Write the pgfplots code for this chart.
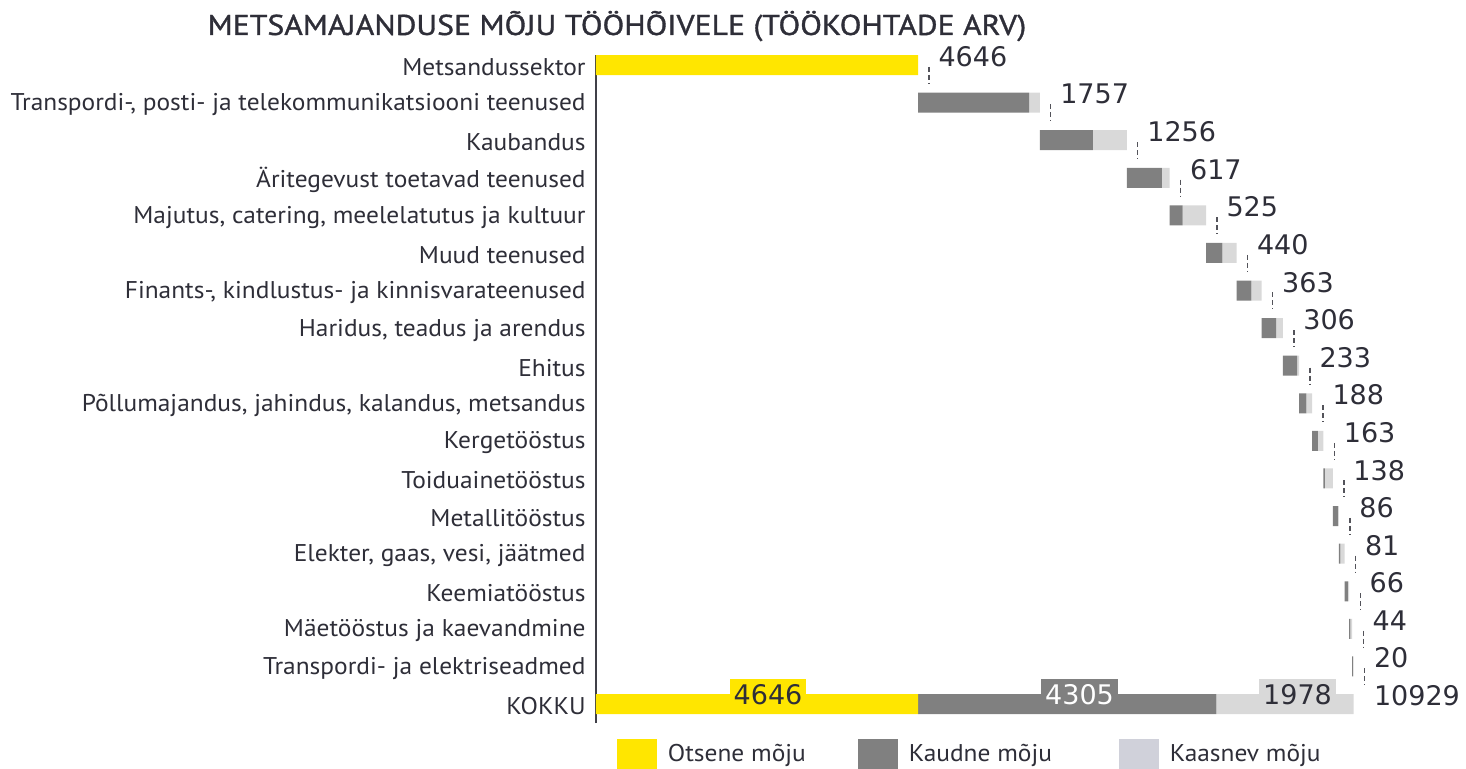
\documentclass[border=0pt]{standalone}
\usepackage{pgfplots}
\pgfplotsset{compat=1.18}
\usepackage{pgfplotstable}
\usepackage{fontspec}
\setmainfont{PT Sans}[FakeStretch=1.05]
\newfontfamily\numfont{DejaVu Sans}
\newfontfamily\titlefont[FakeBold=1.2,FakeStretch=1.11]{PT Sans}
\definecolor{ey}{HTML}{FFE600}
\definecolor{dk}{HTML}{808080}
\definecolor{lt}{HTML}{D9D9D9}
\definecolor{ltleg}{HTML}{D0D1DA}
\definecolor{textc}{HTML}{2E2E38}
\definecolor{axisc}{HTML}{404048}
\newcommand\catfont{\fontsize{12.1}{14}\selectfont}
\newcommand\numsize{\numfont\fontsize{13.5}{16}\selectfont}

\pgfplotstableread{
y off yel dk lt
17 0 4646 0 0
16 4646 0 1604 153
15 6403 0 765 491
14 7659 0 505 112
13 8276 0 188 337
12 8801 0 235 205
11 9241 0 216 147
10 9604 0 207 99
9 9910 0 207 26
8 10143 0 106 82
7 10331 0 82 81
6 10494 0 20 118
5 10632 0 70 16
4 10718 0 20 61
3 10799 0 50 16
2 10865 0 20 24
1 10909 0 10 10
0 0 4646 4305 1978
}\bars

\pgfplotstableread{
lx ly lab
4936 17.22 4646
6693 16.22 1757
7949 15.22 1256
8566 14.22 617
9091 13.22 525
9531 12.22 440
9894 11.22 363
10200 10.22 306
10433 9.22 233
10621 8.22 188
10784 7.22 163
10922 6.22 138
11008 5.22 86
11089 4.22 81
11155 3.22 66
11199 2.22 44
11219 1.22 20
11219 0.22 10929
}\labs

\pgfplotstableread{
cx cy
4805 16.95
4805 16.50
nan nan
6562 15.95
6562 15.50
nan nan
7818 14.95
7818 14.50
nan nan
8435 13.95
8435 13.50
nan nan
8960 12.95
8960 12.50
nan nan
9400 11.95
9400 11.50
nan nan
9763 10.95
9763 10.50
nan nan
10069 9.95
10069 9.50
nan nan
10302 8.95
10302 8.50
nan nan
10490 7.95
10490 7.50
nan nan
10653 6.95
10653 6.50
nan nan
10791 5.95
10791 5.50
nan nan
10877 4.95
10877 4.50
nan nan
10958 3.95
10958 3.50
nan nan
11024 2.95
11024 2.50
nan nan
11068 1.95
11068 1.50
nan nan
11088 0.95
11088 0.50
}\conn

\begin{document}
\begin{tikzpicture}
\useasboundingbox (0,0) rectangle (733pt,384pt);
\begin{axis}[
  at={(298pt,22.5pt)}, anchor=south west,
  width=435pt, height=334pt, scale only axis,
  xmin=0, xmax=12552, ymin=-0.505, ymax=17.266,
  xbar stacked, bar width=10pt,
  axis x line=none, axis y line*=left,
  y axis line style={draw=axisc, line width=0.75pt, -},
  ytick={0,...,17},
  yticklabels={KOKKU, Transpordi- ja elektriseadmed, Mäetööstus ja kaevandmine, Keemiatööstus, {Elekter, gaas, vesi, jäätmed}, Metallitööstus, Toiduainetööstus, Kergetööstus, {Põllumajandus, jahindus, kalandus, metsandus}, Ehitus, {Haridus, teadus ja arendus}, {Finants-, kindlustus- ja kinnisvarateenused}, Muud teenused, {Majutus, catering, meelelatutus ja kultuur}, Äritegevust toetavad teenused, Kaubandus, {Transpordi-, posti- ja telekommunikatsiooni teenused}, Metsandussektor},
  major tick length=0pt,
  yticklabel style={font=\catfont, text=textc, anchor=east, inner sep=0pt, xshift=-5pt, yshift=-1pt},
]
\addplot[draw=none, fill=none] table[x=off, y=y]{\bars};
\addplot[draw=none, fill=ey] table[x=yel, y=y]{\bars};
\addplot[draw=none, fill=dk] table[x=dk, y=y]{\bars};
\addplot[draw=none, fill=lt] table[x=lt, y=y]{\bars};
\end{axis}
\begin{axis}[
  at={(298pt,22.5pt)}, anchor=south west,
  width=435pt, height=334pt, scale only axis,
  xmin=0, xmax=12552, ymin=-0.505, ymax=17.266,
  hide axis, clip=false,
  legend columns=3,
  legend style={at={(0.0241,-0.0464)}, anchor=west, draw=none, fill=none,
    inner sep=0pt, outer sep=0pt, row sep=0pt,
    /tikz/every even column/.append style={column sep=0pt},
    /tikz/every odd column/.append style={column sep=0pt},
    font=\catfont, text=textc, nodes={inner sep=0pt}},
  legend image code/.code={\fill[#1] (0pt,-7.5pt) rectangle (20pt,7.5pt); \path (25.5pt,0pt);},
]
\addlegendimage{fill=ey, draw=none}
\addlegendimage{fill=dk, draw=none}
\addlegendimage{fill=ltleg, draw=none}
\legend{\makebox[95pt][l]{Otsene mõju}, \makebox[105pt][l]{Kaudne mõju}, Kaasnev mõju}
\addplot[mark=none, unbounded coords=jump, line width=0.6pt, dash pattern=on 2.5pt off 1.5pt, color=axisc!90]
  table[x=cx, y=cy]{\conn};
\addplot[only marks, mark=none, nodes near coords, point meta=explicit symbolic,
  nodes near coords style={anchor=west, font=\numsize, text=textc, inner sep=0pt}]
  table[x=lx, y=ly, meta=lab]{\labs};
\addplot[only marks, mark=none, nodes near coords, point meta=explicit symbolic,
  nodes near coords style={anchor=center, font=\numsize, text=textc, fill=ey, inner xsep=2pt, inner ysep=3pt}]
  coordinates {(2482,0.24) [4646]};
\addplot[only marks, mark=none, nodes near coords, point meta=explicit symbolic,
  nodes near coords style={anchor=center, font=\numsize, text=white, fill=dk, inner xsep=2pt, inner ysep=3pt}]
  coordinates {(6976,0.24) [4305]};
\addplot[only marks, mark=none, nodes near coords, point meta=explicit symbolic,
  nodes near coords style={anchor=center, font=\numsize, text=textc, fill=lt, inner xsep=2pt, inner ysep=3pt}]
  coordinates {(10121,0.24) [1978]};
\node[font=\titlefont\fontsize{14.3}{17}\selectfont, text=textc, anchor=base] at (axis description cs:0.0241,1.030) {METSAMAJANDUSE MÕJU TÖÖHÕIVELE (TÖÖKOHTADE ARV)};
\end{axis}
\end{tikzpicture}
\end{document}
